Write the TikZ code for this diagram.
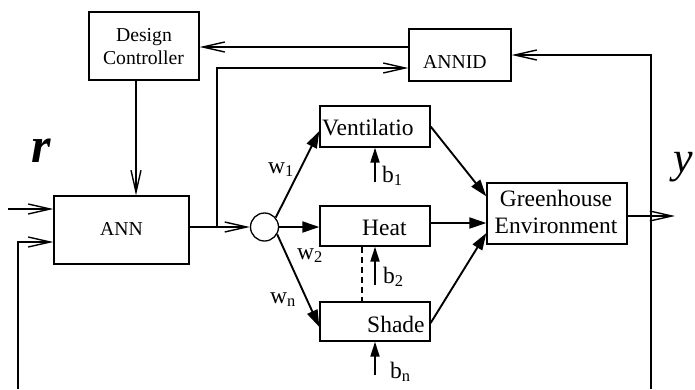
\documentclass[tikz,border=0pt]{standalone}
\usepackage{fontspec}
\setmainfont{Liberation Serif}
\usetikzlibrary{arrows.meta}
\newcommand\BigLbl{\fontsize{23.5}{27}\selectfont}
\newcommand\SmLbl{\fontsize{19.7}{23}\selectfont}
\tikzset{
  oarrow/.style={line width=1.4pt, arrows={-Straight Barb[length=22pt,width=10pt,line width=1.4pt]}},
  farrow/.style={line width=1.9pt, arrows={-Triangle[length=17pt,width=11pt]}},
  barrow/.style={line width=1.9pt, arrows={-Triangle[length=15pt,width=9pt]}}}
\begin{document}
\begin{tikzpicture}[x=1pt,y=-1pt,
  box/.style={draw, line width=1.3pt, rectangle, inner sep=0pt},
  txt/.style={inner sep=0pt, anchor=base west},
  ctxt/.style={inner sep=0pt, anchor=base}]
\useasboundingbox (0,0) rectangle (695,389);

% boxes
\node[box, minimum width=110pt, minimum height=68pt] (dc) at (144,46) {};
\node[box, minimum width=102pt, minimum height=52pt] (annid) at (460,55) {};
\node[box, minimum width=135pt, minimum height=68pt] (ann) at (121.5,230) {};
\node[draw, line width=1.3pt, circle, minimum size=28pt, inner sep=0pt] (sum) at (264.5,227) {};
\node[box, minimum width=110pt, minimum height=41pt] (vent) at (375,126.5) {};
\node[box, minimum width=110pt, minimum height=40pt] (heat) at (375,226) {};
\node[box, minimum width=110pt, minimum height=39pt] (shade) at (375,321.5) {};
\node[box, minimum width=140pt, minimum height=61pt] (gh) at (557,213.5) {};

% texts
\node[ctxt] (tdc1) at (144,41) {\SmLbl Design};
\node[ctxt] (tdc2) at (143.5,64) {\SmLbl Controller};
\node[txt] (tannid) at (423,68) {\SmLbl ANNID};
\node[txt] (tann) at (100,235) {\SmLbl ANN};
\node[txt] (tvent) at (322,135) {\BigLbl Ventilatio};
\node[txt] (theat) at (362,235) {\BigLbl Heat};
\node[txt] (tshade) at (367,332) {\BigLbl Shade};
\node[ctxt] (tgh1) at (556,206) {\BigLbl Greenhouse};
\node[ctxt] (tgh2) at (556,233) {\BigLbl Environment};

\node[txt] (lw1) at (268,173) {\BigLbl w\textsubscript{1}};
\node[txt] (lw2) at (297,259) {\BigLbl w\textsubscript{2}};
\node[txt] (lwn) at (270,303) {\BigLbl w\textsubscript{n}};
\node[txt] (lb1) at (382,182) {\BigLbl b\textsubscript{1}};
\node[txt] (lb2) at (383,283) {\BigLbl b\textsubscript{2}};
\node[txt] (lbn) at (390,378) {\BigLbl b\textsubscript{n}};
\node[txt] (lr) at (31,162) {\fontsize{50}{50}\selectfont\bfseries\itshape r};
\node[txt] (ly) at (673,172) {\fontsize{44}{44}\selectfont\itshape y};

% coordinates
\coordinate (rin) at (8,209);
\coordinate (bL) at (18,389);
\coordinate (bR) at (651,389);
\coordinate (J) at (217,227);
\coordinate (yout) at (675,216);
\coordinate (b1s) at (375,182);
\coordinate (b2s) at (375,285);
\coordinate (bns) at (375,375);

% connectors
\draw[oarrow] ([yshift=8pt]annid.west) coordinate (p1) -- (p1 -| dc.east);
\draw[oarrow] ([xshift=-8pt]dc.south) coordinate (p2) -- (p2 |- ann.north);
\draw[oarrow] (rin) -- (rin -| ann.west);
\draw[oarrow] (bL) |- ([yshift=-12pt]ann.west);
\draw[oarrow] ([yshift=3pt]ann.east) -- (sum.west);
\draw[oarrow] (J) |- ([yshift=-13pt]annid.west);
\draw[oarrow] (bR) |- (annid.east);
\draw[oarrow] ([yshift=-2.5pt]gh.east) -- (yout);

\draw[farrow] (sum.40) -- ([yshift=-4.5pt]vent.west);
\draw[farrow] (sum.east) -- (heat.west |- sum.east);
\draw[farrow] (sum.-30) -- ([yshift=-5.5pt]shade.west);
\draw[farrow] (vent.east) -- ([yshift=-14pt]gh.north west);
\draw[farrow] ([yshift=3pt]heat.east) -- ([yshift=-9.5pt]gh.west);
\draw[farrow] ([yshift=-1.5pt]shade.east) -- ([yshift=-19.5pt]gh.west);

\draw[barrow] (b1s) -- (b1s |- vent.south);
\draw[barrow] (b2s) -- (b2s |- heat.south);
\draw[barrow] (bns) -- (bns |- shade.south);
\draw[line width=1.3pt, dashed, dash pattern=on 6pt off 4pt] ([xshift=-13pt]heat.south) -- ([xshift=-13pt]shade.north);
\end{tikzpicture}
\end{document}
